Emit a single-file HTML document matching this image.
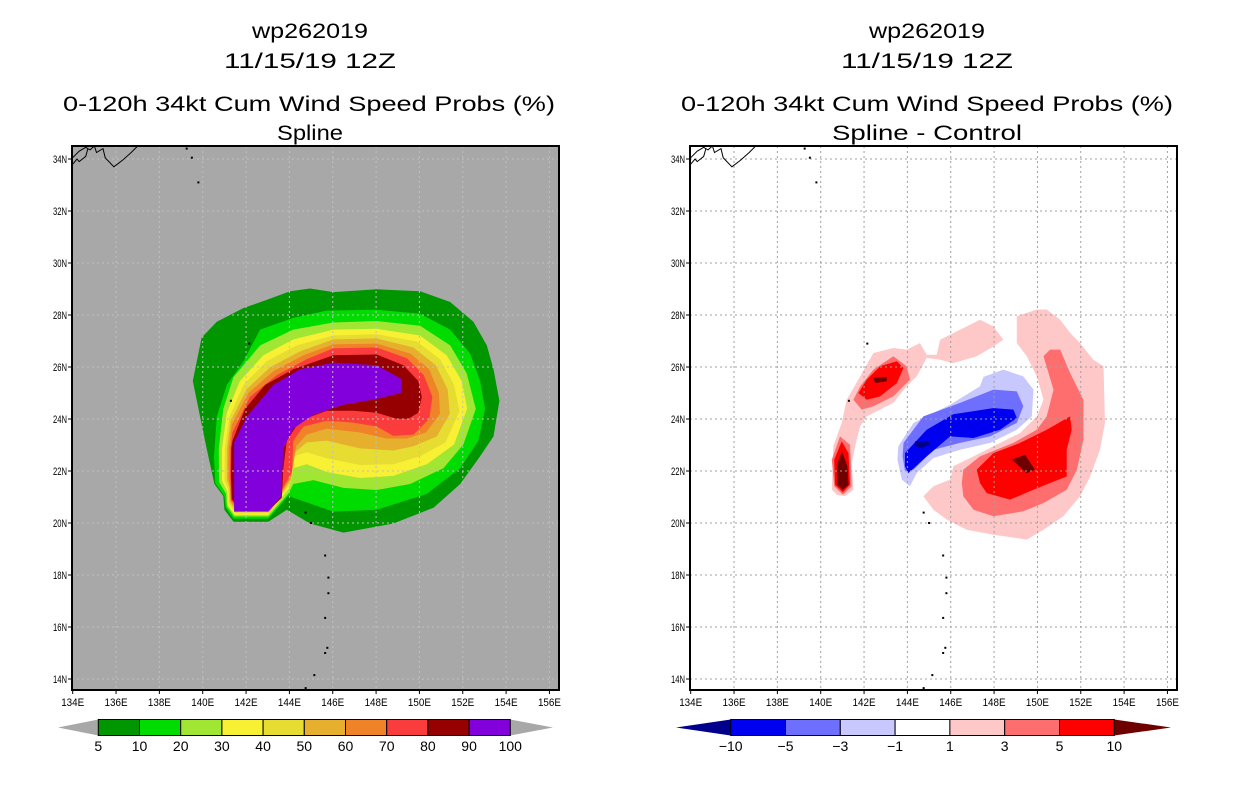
<!DOCTYPE html>
<html><head><meta charset="utf-8"><style>
html,body{margin:0;padding:0;background:#fff;}
svg{display:block;font-family:"Liberation Sans",sans-serif;}
</style></head><body>
<svg id="chart" width="1236" height="800" viewBox="0 0 1236 800" xmlns="http://www.w3.org/2000/svg">
<g id="titles">
<text x="310" y="38" font-size="21" text-anchor="middle" textLength="116" lengthAdjust="spacingAndGlyphs">wp262019</text>
<text x="310" y="68" font-size="21" text-anchor="middle" textLength="172" lengthAdjust="spacingAndGlyphs">11/15/19 12Z</text>
<text x="309" y="111" font-size="21" text-anchor="middle" textLength="492" lengthAdjust="spacingAndGlyphs">0-120h 34kt Cum Wind Speed Probs (%)</text>
<text x="310" y="140" font-size="21" text-anchor="middle" textLength="66" lengthAdjust="spacingAndGlyphs">Spline</text>
<text x="927" y="38" font-size="21" text-anchor="middle" textLength="116" lengthAdjust="spacingAndGlyphs">wp262019</text>
<text x="927" y="68" font-size="21" text-anchor="middle" textLength="172" lengthAdjust="spacingAndGlyphs">11/15/19 12Z</text>
<text x="927" y="111" font-size="21" text-anchor="middle" textLength="492" lengthAdjust="spacingAndGlyphs">0-120h 34kt Cum Wind Speed Probs (%)</text>
<text x="927" y="140" font-size="21" text-anchor="middle" textLength="190" lengthAdjust="spacingAndGlyphs">Spline - Control</text>
</g>
</svg>
<script>
// ---- data ----
const lonTicks = [134,136,138,140,142,144,146,148,150,152,154,156];
const latTicks = [14,16,18,20,22,24,26,28,30,32,34];
const probLevels = [5,10,20,30,40,50,60,70,80,90,100];
const probColors = ["#009600","#00dc00","#a0e632","#f8f032","#e6dc32","#e6af2d","#f08228","#fa3c3c","#960000","#8200dc"];
const diffLevels = ["-10","-5","-3","-1","1","3","5","10"];
const diffColors = ["#0000f0","#6e6eff","#c8c8ff","#ffffff","#ffc8c8","#ff6e6e","#ff0000"];
const diffLow = "#00008c", diffHigh = "#6e0000";

const prob5 = [[144.03,28.91],[144.95,29.02],[146.03,28.88],[148.03,28.99],[150.03,28.91],[151.42,28.5],[152.49,27.74],[153.11,26.83],[153.42,25.91],[153.69,24.7],[153.42,23.33],[152.8,22.57],[151.88,21.5],[150.65,20.59],[148.8,19.98],[146.49,19.63],[144.95,19.98],[143.88,20.51],[143.03,20.05],[141.42,20.05],[141.0,20.51],[140.95,21.04],[140.54,21.5],[140.18,22.87],[139.88,24.09],[139.54,25.46],[139.95,27.13],[140.65,27.74],[141.88,28.27],[142.95,28.58]];
const prob10 = [[142.65,27.44],[144.18,27.89],[145.72,28.17],[148.03,28.2],[150.03,28.05],[151.42,27.44],[152.34,26.52],[152.8,25.46],[153.03,24.39],[152.72,23.17],[151.88,22.11],[150.34,21.12],[148.03,20.51],[146.03,20.44],[144.18,20.97],[143.95,21.04],[143.03,20.16],[141.42,20.16],[141.06,20.59],[141.0,21.04],[140.58,21.53],[140.52,22.57],[140.65,24.09],[141.11,25.31],[141.88,26.22]];
const prob20 = [[140.95,24.39],[141.42,25.61],[142.65,26.83],[144.18,27.44],[146.03,27.71],[148.03,27.77],[150.03,27.59],[151.42,26.83],[152.18,25.76],[152.6,24.39],[152.03,23.02],[151.11,22.11],[149.57,21.5],[148.03,21.27],[146.49,21.35],[145.11,21.65],[144.18,21.5],[143.95,21.12],[143.03,20.25],[141.45,20.25],[141.11,20.65],[141.08,21.12],[140.75,21.58],[140.74,22.87]];
const prob30 = [[141.11,24.24],[141.72,25.46],[142.8,26.45],[144.18,27.06],[146.03,27.44],[148.03,27.47],[150.03,27.21],[151.26,26.45],[151.95,25.46],[152.2,24.4],[151.6,23.02],[150.34,22.26],[148.8,21.81],[147.26,21.73],[145.72,21.96],[144.8,22.26],[144.18,22.11],[144.0,21.35],[143.03,20.31],[141.48,20.31],[141.15,20.7],[141.14,21.2],[140.89,21.62],[140.89,22.87]];
const prob40 = [[141.23,24.09],[141.88,25.31],[142.95,26.22],[144.34,26.83],[146.03,27.21],[148.03,27.26],[149.88,26.98],[150.95,26.3],[151.6,25.31],[151.85,24.3],[151.2,23.1],[150.03,22.57],[148.8,22.26],[147.26,22.23],[145.72,22.49],[144.8,22.72],[144.18,22.57],[144.03,21.5],[143.08,20.37],[141.51,20.37],[141.2,20.77],[141.18,21.27],[141.0,21.65],[141.02,22.87]];
const prob50 = [[141.29,23.94],[142.03,25.15],[143.11,25.99],[144.49,26.6],[146.03,27.06],[148.03,27.1],[149.72,26.75],[150.75,26.07],[151.3,25.15],[151.4,24.2],[150.8,23.33],[149.72,22.95],[148.8,22.79],[147.26,22.87],[145.72,23.17],[144.8,23.1],[144.26,22.72],[144.06,21.65],[143.11,20.44],[141.54,20.44],[141.25,20.82],[141.23,21.35],[141.11,21.68],[141.12,22.87]];
const prob60 = [[141.34,23.78],[142.11,25.0],[143.26,25.84],[144.65,26.45],[146.03,26.87],[148.03,26.9],[149.57,26.52],[150.45,25.91],[150.9,25.0],[150.95,24.2],[150.3,23.48],[149.42,23.25],[148.49,23.25],[147.26,23.48],[145.72,23.63],[144.8,23.4],[144.31,22.95],[144.09,21.8],[143.14,20.5],[141.57,20.5],[141.28,20.86],[141.26,21.38],[141.18,21.73],[141.2,22.87]];
const prob70 = [[141.37,23.48],[142.18,24.85],[143.42,25.69],[144.8,26.3],[146.03,26.72],[148.03,26.75],[149.42,26.34],[150.2,25.69],[150.6,24.85],[150.45,24.0],[149.72,23.4],[148.8,23.35],[148.03,23.71],[146.95,23.86],[145.72,23.94],[144.65,23.71],[144.18,23.17],[144.12,21.96],[143.17,20.56],[141.6,20.56],[141.31,20.89],[141.29,21.42],[141.26,21.77],[141.28,22.87]];
const prob80 = [[141.38,23.17],[141.95,24.39],[142.88,25.31],[144.18,25.91],[146.03,26.45],[148.03,26.48],[149.26,26.07],[149.95,25.46],[150.11,24.85],[149.95,24.24],[149.49,24.01],[148.95,24.01],[148.03,24.24],[146.95,24.32],[145.72,24.32],[144.49,23.94],[143.88,23.17],[143.72,22.11],[143.65,20.97],[143.22,20.62],[141.63,20.62],[141.34,20.92],[141.32,21.47],[141.31,21.8],[141.32,22.87]];
const prob90 = [[141.45,23.1],[142.03,24.09],[143.26,25.31],[144.49,25.91],[146.03,26.17],[148.03,26.07],[149.18,25.53],[149.14,25.0],[148.03,24.77],[146.49,24.55],[145.11,24.17],[144.18,23.63],[143.72,22.87],[143.62,21.04],[143.03,20.44],[141.45,20.44]];
const probRings = [prob5,prob10,prob20,prob30,prob40,prob50,prob60,prob70,prob80,prob90];

const pinkArc = [[140.51,21.28],[140.58,22.95],[140.97,23.85],[141.2,24.74],[141.82,25.64],[142.43,26.54],[143.35,26.73],[143.97,26.67],[144.58,26.92],[144.89,26.47],[145.35,26.47],[145.51,27.05],[147.35,27.82],[147.97,27.56],[148.43,27.05],[147.97,26.79],[147.2,26.41],[146.12,26.15],[145.51,26.28],[144.89,26.35],[144.43,25.64],[143.97,25.26],[143.35,24.62],[142.12,24.1],[141.82,23.72],[141.66,23.21],[141.43,22.31],[141.51,21.28],[141.12,21.03],[140.74,21.09]];
const upperBlob3 = [[141.51,24.74],[141.82,25.26],[142.43,25.9],[143.35,26.41],[143.97,26.03],[144.12,25.51],[143.35,24.87],[142.43,24.49],[141.89,24.36]];
const upperBlob5 = [[141.74,25.0],[142.12,25.51],[142.74,26.03],[143.51,26.22],[143.82,25.96],[143.51,25.38],[142.74,24.87],[142.12,24.74]];
const upperBlob10 = [[142.43,25.58],[143.05,25.62],[143.05,25.45],[142.51,25.38]];
const lowerBlob3 = [[140.89,23.33],[141.35,23.01],[141.43,21.41],[141.02,21.09],[140.62,21.41],[140.51,22.44]];
const lowerBlob5 = [[140.97,23.14],[141.28,22.69],[141.35,21.47],[141.02,21.18],[140.66,21.47],[140.62,22.44]];
const lowerBlob10 = [[140.98,22.76],[141.23,22.18],[141.28,21.47],[141.02,21.28],[140.75,21.47],[140.78,22.31]];
const blue1 = [[143.58,22.95],[144.28,23.85],[145.97,24.55],[147.35,25.26],[147.51,25.62],[148.43,25.9],[149.35,25.64],[149.82,25.13],[149.74,24.1],[149.05,23.59],[147.82,23.08],[146.43,22.82],[145.2,22.5],[144.43,21.92],[144.12,21.41],[143.74,21.67],[143.54,22.44]];
const blue3 = [[143.82,23.08],[144.74,24.1],[146.43,24.62],[147.97,25.13],[149.05,25.06],[149.35,24.49],[149.05,23.85],[147.82,23.33],[146.43,23.08],[145.2,22.82],[144.28,22.05],[143.89,21.99],[143.78,22.56]];
const blue5 = [[143.89,22.69],[144.89,23.59],[146.12,24.18],[147.97,24.42],[148.89,24.36],[149.05,24.04],[148.28,23.59],[147.05,23.27],[145.97,23.33],[144.89,22.56],[144.04,21.92],[143.89,22.18]];
const blue10 = [[144.35,23.14],[144.97,23.14],[145.05,23.01],[144.58,22.88],[144.38,22.95]];
const east1 = [[144.74,21.03],[145.2,21.41],[145.97,21.67],[146.12,22.18],[147.05,22.56],[147.97,22.95],[149.2,23.46],[149.97,24.1],[150.28,24.74],[149.97,25.64],[149.51,26.41],[149.05,26.92],[149.05,27.95],[149.97,28.21],[150.43,28.21],[151.05,27.82],[151.51,27.31],[151.97,26.92],[152.58,26.28],[153.05,26.03],[153.12,23.85],[152.89,22.82],[152.43,21.79],[151.97,21.03],[151.2,20.26],[150.28,19.74],[149.51,19.36],[147.97,19.55],[146.74,19.74],[145.82,20.13],[145.2,20.51]];
const east3 = [[146.58,22.05],[147.35,22.56],[148.89,23.08],[149.97,23.59],[150.43,24.1],[150.74,25.13],[150.28,26.41],[150.58,26.67],[151.05,26.67],[151.51,25.77],[152.12,24.74],[152.12,23.21],[151.82,22.05],[151.35,21.28],[150.28,20.77],[149.35,20.45],[147.97,20.26],[147.05,20.51],[146.58,21.03],[146.51,21.54]];
const east5 = [[147.2,22.05],[147.97,22.69],[149.2,23.08],[150.43,23.59],[151.51,24.1],[151.58,23.59],[151.35,22.82],[151.35,21.79],[150.58,21.54],[149.82,21.28],[148.74,20.9],[147.66,21.15],[147.35,21.54]];
const east10 = [[148.82,22.44],[149.43,22.63],[149.89,22.05],[149.51,21.92]];
const diffRings = [[pinkArc,4],[upperBlob3,5],[upperBlob5,6],[upperBlob10,7],[lowerBlob3,5],[lowerBlob5,6],[lowerBlob10,7],[blue1,2],[blue3,1],[blue5,0],[blue10,-1],[east1,4],[east3,5],[east5,6],[east10,7]];

const coastJapan = [[134.0,34.05],[134.3,34.3],[134.6,34.45],[134.8,34.35],[135.0,34.5],[135.1,34.25],[135.4,34.4],[135.5,34.05],[135.9,33.7],[136.3,33.95],[136.7,34.25],[137.0,34.5]];
const coastJapan2 = [[134.0,33.8],[134.2,34.0],[134.3,33.9],[134.6,34.1],[134.7,34.4]];
const islands = [[139.26,34.4],[139.5,34.05],[139.8,33.1],[145.65,18.75],[145.8,17.9],[145.8,17.3],[145.65,16.35],[145.75,15.2],[145.65,15.0],[145.15,14.15],[144.75,13.65],[144.75,20.4],[145.0,20.0],[141.3,24.7],[142.15,26.9]];

// ---- drawing ----
const NS = "http://www.w3.org/2000/svg";
const svg = document.getElementById("chart");
const P = {x0:72.7, pxLon:21.67, y0:159, pxLat:26, left:72, right:559, top:146, bottom:690};
function xs(lon, off){ return off + P.x0 + (lon-134)*P.pxLon; }
function ys(lat){ return P.y0 + (34-lat)*P.pxLat; }
function mk(tag, attrs, parent){ const e=document.createElementNS(NS,tag); for(const k in attrs) e.setAttribute(k,attrs[k]); parent.appendChild(e); return e; }
function ptsStr(ring, off){ return ring.map(p=>xs(p[0],off).toFixed(1)+","+ys(p[1]).toFixed(1)).join(" "); }

function drawPanel(off, bg, name){
  const g = mk("g",{},svg);
  
  
  const clipId = name+"-clip";
  const cp = mk("clipPath",{id:clipId},g);
  mk("rect",{x:P.left+off,y:P.top,width:P.right-P.left,height:P.bottom-P.top},cp);
  const bgR = mk("rect",{x:P.left+off,y:P.top,width:P.right-P.left,height:P.bottom-P.top,fill:bg},g);
  
  
  const inner = mk("g",{"clip-path":"url(#"+clipId+")"},g);
  return {g, inner};
}
function drawGridAndAxes(panel, off, name, gridColor){
  const gg = mk("g",{stroke:gridColor,"stroke-width":1,"stroke-dasharray":"2,3",fill:"none"},panel.inner);
  
  
  lonTicks.forEach(l=>{ if(l>134&&l<156.4) mk("line",{x1:xs(l,off),x2:xs(l,off),y1:P.top,y2:P.bottom},gg); });
  latTicks.forEach(l=>{ mk("line",{x1:P.left+off,x2:P.right+off,y1:ys(l),y2:ys(l)},gg); });
  [coastJapan,coastJapan2].forEach(c=>{
    const pl = mk("polyline",{points:ptsStr(c,off),fill:"none",stroke:"#000","stroke-width":1},panel.inner);
    
    
  });
  islands.forEach(p=>{
    const r = mk("rect",{x:xs(p[0],off)-1,y:ys(p[1])-1,width:2,height:2,fill:"#000"},panel.inner);
    
    
  });
  const fr = mk("rect",{x:P.left+off,y:P.top,width:P.right-P.left,height:P.bottom-P.top,fill:"none",stroke:"#000","stroke-width":2},panel.g);
  
  
  lonTicks.forEach(l=>{
    const x = xs(l,off);
    mk("line",{x1:x,x2:x,y1:P.bottom,y2:P.bottom+4,stroke:"#000"},panel.g);
    const t = mk("text",{x:x,y:P.bottom+16,"font-size":11,"text-anchor":"middle",textLength:23,lengthAdjust:"spacingAndGlyphs"},panel.g);
    t.textContent = l+"E";
    
    
  });
  latTicks.forEach(l=>{
    const y = ys(l);
    mk("line",{x1:P.left+off-4,x2:P.left+off,y1:y,y2:y,stroke:"#000"},panel.g);
    const t = mk("text",{x:P.left+off-5,y:y+4,"font-size":11,"text-anchor":"end",textLength:14,lengthAdjust:"spacingAndGlyphs"},panel.g);
    t.textContent = l+"N";
    
    
  });
}

const left = drawPanel(0,"#a8a8a8","left");
probRings.forEach((ring,i)=>{
  const p = mk("polygon",{points:ptsStr(ring,0),fill:probColors[i]},left.inner);
  
  
});
drawGridAndAxes(left,0,"left","#c0c0c0");

const ROFF = 618;
const right = drawPanel(ROFF,"#ffffff","right");
diffRings.forEach(([ring,ci])=>{
  const col = ci<0 ? diffLow : (ci>=7 ? diffHigh : diffColors[ci]);
  const p = mk("polygon",{points:ptsStr(ring,ROFF),fill:col},right.inner);
  
  
});
drawGridAndAxes(right,ROFF,"right","#a0a0a0");

function colorbar(x0,x1,tipL,tipR,colors,labels,lowCol,highCol,name){
  const g = mk("g",{},svg);
  
  
  const y0=719.5, y1=735.5, ym=(y0+y1)/2;
  const tl = mk("polygon",{points:`${tipL},${ym} ${x0},${y0} ${x0},${y1}`,fill:lowCol},g);
  
  
  const tr = mk("polygon",{points:`${tipR},${ym} ${x1},${y0} ${x1},${y1}`,fill:highCol},g);
  
  
  const w = (x1-x0)/colors.length;
  colors.forEach((c,i)=>{
    const r = mk("rect",{x:x0+i*w,y:y0,width:w,height:y1-y0,fill:c,stroke:"#000","stroke-width":1},g);
    
    
  });
  labels.forEach((lb,i)=>{
    const t = mk("text",{x:x0+i*w,y:751,"font-size":14,"text-anchor":"middle"},g);
    t.textContent = String(lb).replace("-","\u2212");
    
    
  });
}
colorbar(98.3,510.3,58,553,probColors,probLevels,"#a8a8a8","#a8a8a8","prob-colorbar");
colorbar(730.7,1114.3,676,1171,diffColors,diffLevels,diffLow,diffHigh,"diff-colorbar");
</script>
</body></html>
